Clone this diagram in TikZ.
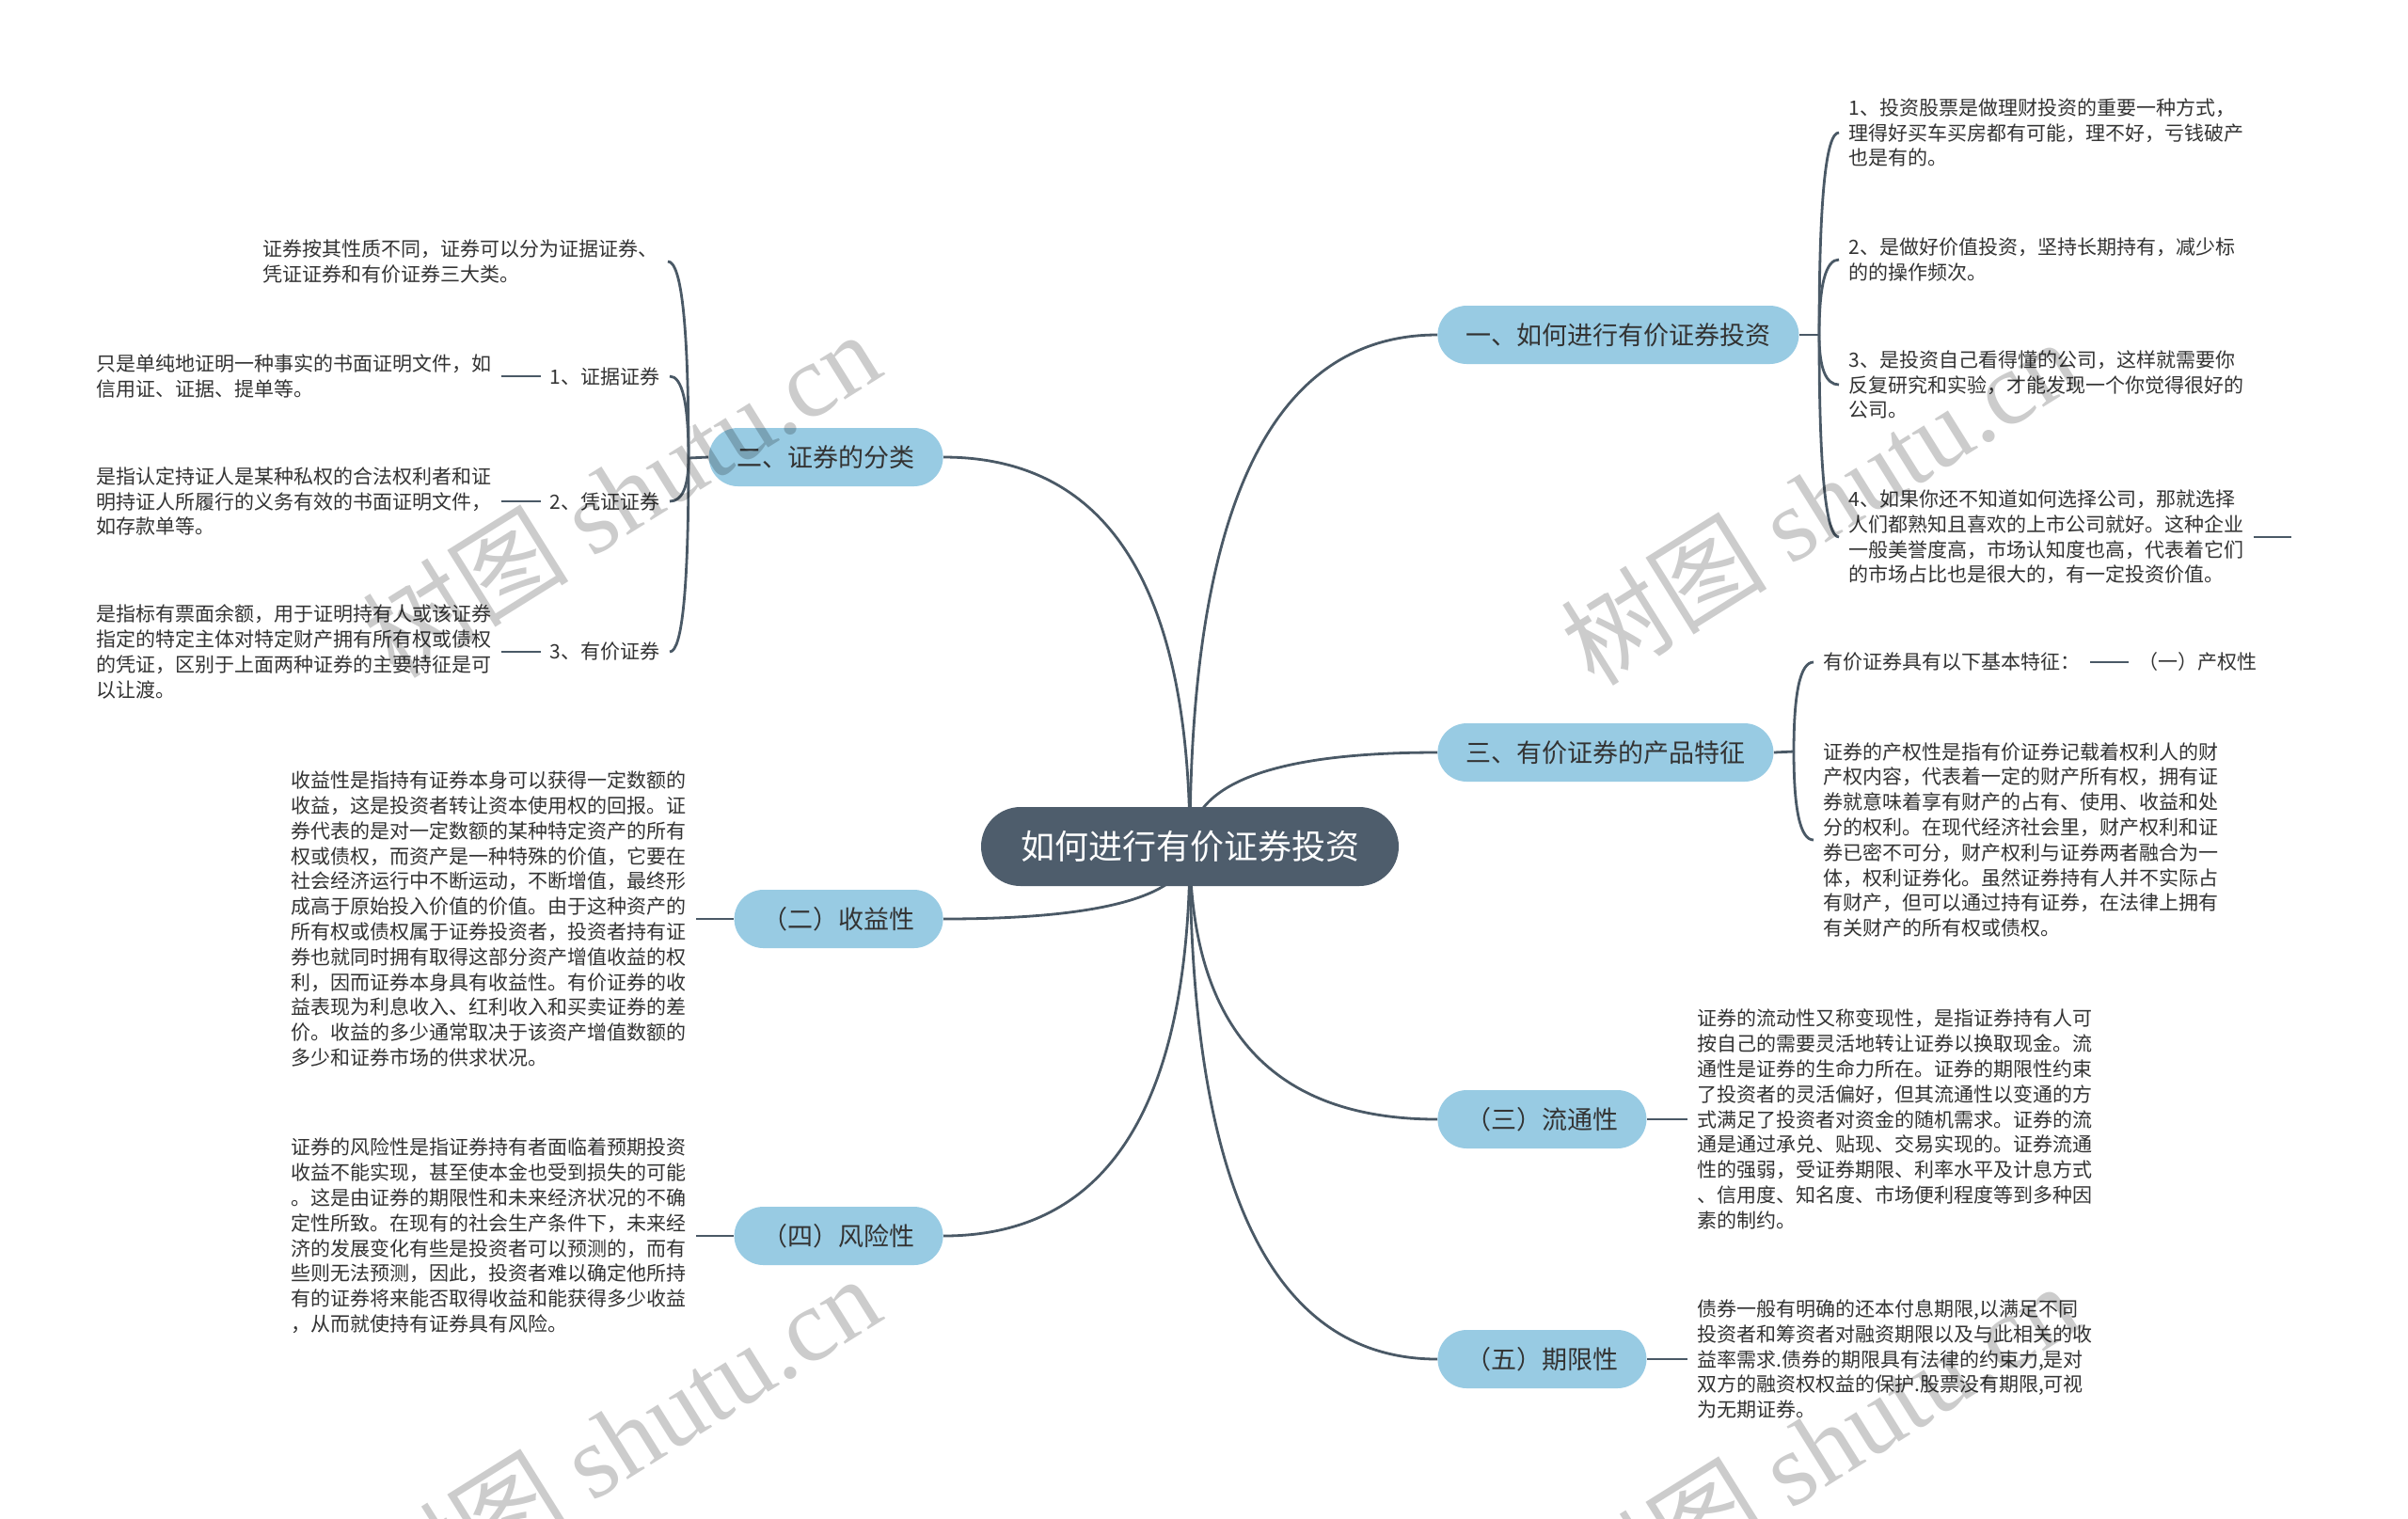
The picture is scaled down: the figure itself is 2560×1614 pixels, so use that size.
\documentclass[tikz,border=0pt]{standalone}
\usepackage{fontspec}
\setmainfont{Noto Sans CJK SC}
\newfontfamily\wmlatin{Liberation Serif}
\usepackage{xcolor}
\usetikzlibrary{positioning,calc,backgrounds}
\definecolor{rootfill}{HTML}{4E5D6C}
\definecolor{topicfill}{HTML}{98CBE3}
\definecolor{linecol}{HTML}{4A5966}
\definecolor{inkgray}{HTML}{333333}

\begin{document}
\begin{tikzpicture}[
    x=0.5pt, y=-0.5pt,
    root/.style={fill=rootfill, text=white, rounded corners=21pt, minimum height=42pt,
                 inner xsep=21pt, font=\fontsize{18}{22}\selectfont},
    topic/.style={fill=topicfill, text=inkgray, rounded corners=15.5pt, minimum height=31pt,
                  inner xsep=15pt, font=\fontsize{13.5}{16}\selectfont},
    leaf/.style={text=inkgray, align=left, inner xsep=5pt, inner ysep=1pt,
                 font=\fontsize{10.5}{13.4}\selectfont},
    conn/.style={draw=linecol, line width=1.4pt},
    watermark/.style={text=black, text opacity=0.2, rotate=32,
                      font=\fontsize{55}{60}\selectfont},
  ]
  \useasboundingbox (0,0) rectangle (2560,1614);

  % centre + main topics
  \node[root] (root) at (1265,900) {如何进行有价证券投资};
  \node[topic, anchor=west] (invest) at (1528,356)  {一、如何进行有价证券投资};
  \node[topic, anchor=west] (feat)   at (1528,800)  {三、有价证券的产品特征};
  \node[topic, anchor=west] (liquid) at (1528,1190) {（三）流通性};
  \node[topic, anchor=west] (term)   at (1528,1445) {（五）期限性};
  \node[topic, anchor=east] (kinds)  at (1003,486)  {二、证券的分类};
  \node[topic, anchor=east] (yield)  at (1003,977)  {（二）收益性};
  \node[topic, anchor=east] (risk)   at (1003,1314) {（四）风险性};

  % leaves of "一"
  \coordinate (jinv) at (1934,356);
  \node[leaf, anchor=west] (inv1) at (1955,141) {1、投资股票是做理财投资的重要一种方式，\\理得好买车买房都有可能，理不好，亏钱破产\\也是有的。};
  \node[leaf, anchor=west] (inv2) at (1955,276) {2、是做好价值投资，坚持长期持有，减少标\\的的操作频次。};
  \node[leaf, anchor=west] (inv3) at (1955,409) {3、是投资自己看得懂的公司，这样就需要你\\反复研究和实验，才能发现一个你觉得很好的\\公司。};
  \node[leaf, anchor=west] (inv4) at (1955,571) {4、如果你还不知道如何选择公司，那就选择\\人们都熟知且喜欢的上市公司就好。这种企业\\一般美誉度高，市场认知度也高，代表着它们\\的市场占比也是很大的，有一定投资价值。};
  \coordinate (inv4stub) at (2436,571);

  % leaves of "三"
  \coordinate (jfeat) at (1907,799);
  \node[leaf, anchor=west] (feat1) at (1928,704) {有价证券具有以下基本特征：};
  \node[leaf, right=20.5pt of feat1] (prop) {（一）产权性};
  \node[leaf, anchor=west] (feat2) at (1928,893) {证券的产权性是指有价证券记载着权利人的财\\产权内容，代表着一定的财产所有权，拥有证\\券就意味着享有财产的占有、使用、收益和处\\分的权利。在现代经济社会里，财产权利和证\\券已密不可分，财产权利与证券两者融合为一\\体，权利证券化。虽然证券持有人并不实际占\\有财产，但可以通过持有证券，在法律上拥有\\有关财产的所有权或债权。};

  % leaves of the lower right topics
  \node[leaf, right=21.5pt of liquid] (liq1) {证券的流动性又称变现性，是指证券持有人可\\按自己的需要灵活地转让证券以换取现金。流\\通性是证券的生命力所在。证券的期限性约束\\了投资者的灵活偏好，但其流通性以变通的方\\式满足了投资者对资金的随机需求。证券的流\\通是通过承兑、贴现、交易实现的。证券流通\\性的强弱，受证券期限、利率水平及计息方式\\、信用度、知名度、市场便利程度等到多种因\\素的制约。};
  \node[leaf, right=21.5pt of term] (term1) {债券一般有明确的还本付息期限,以满足不同\\投资者和筹资者对融资期限以及与此相关的收\\益率需求.债券的期限具有法律的约束力,是对\\双方的融资权权益的保护.股票没有期限,可视\\为无期证券。};

  % leaves of "二"
  \coordinate (jkind) at (732,487);
  \node[leaf, anchor=east] (kind0) at (710,278) {证券按其性质不同，证券可以分为证据证券、\\凭证证券和有价证券三大类。};
  \node[leaf, anchor=east] (sub1) at (712,400) {1、证据证券};
  \node[leaf, anchor=east] (sub2) at (712,533) {2、凭证证券};
  \node[leaf, anchor=east] (sub3) at (712,693) {3、有价证券};
  \node[leaf, left=21pt of sub1] (kind1) {只是单纯地证明一种事实的书面证明文件，如\\信用证、证据、提单等。};
  \node[leaf, left=21pt of sub2] (kind2) {是指认定持证人是某种私权的合法权利者和证\\明持证人所履行的义务有效的书面证明文件，\\如存款单等。};
  \node[leaf, left=21pt of sub3] (kind3) {是指标有票面余额，用于证明持有人或该证券\\指定的特定主体对特定财产拥有所有权或债权\\的凭证，区别于上面两种证券的主要特征是可\\以让渡。};

  % leaves of the lower left topics
  \node[leaf, left=20pt of yield] (yld1) {收益性是指持有证券本身可以获得一定数额的\\收益，这是投资者转让资本使用权的回报。证\\券代表的是对一定数额的某种特定资产的所有\\权或债权，而资产是一种特殊的价值，它要在\\社会经济运行中不断运动，不断增值，最终形\\成高于原始投入价值的价值。由于这种资产的\\所有权或债权属于证券投资者，投资者持有证\\券也就同时拥有取得这部分资产增值收益的权\\利，因而证券本身具有收益性。有价证券的收\\益表现为利息收入、红利收入和买卖证券的差\\价。收益的多少通常取决于该资产增值数额的\\多少和证券市场的供求状况。};
  \node[leaf, left=20pt of risk] (risk1) {证券的风险性是指证券持有者面临着预期投资\\收益不能实现，甚至使本金也受到损失的可能\\。这是由证券的期限性和未来经济状况的不确\\定性所致。在现有的社会生产条件下，未来经\\济的发展变化有些是投资者可以预测的，而有\\些则无法预测，因此，投资者难以确定他所持\\有的证券将来能否取得收益和能获得多少收益\\，从而就使持有证券具有风险。};

  % connectors from the centre (behind the nodes)
  \begin{scope}[on background layer]
    \fill[white] (0,0) rectangle (2560,1614);
    \foreach \t in {invest,feat,liquid,term}
      \draw[conn] (root.center) .. controls ($(root.center)!2/3!(root.center |- \t.west)$)
                  and ($(\t.west)!2/3!(root.center |- \t.west)$) .. (\t.west);
    \foreach \t in {kinds,yield,risk}
      \draw[conn] (root.center) .. controls ($(root.center)!2/3!(root.center |- \t.east)$)
                  and ($(\t.east)!2/3!(root.center |- \t.east)$) .. (\t.east);
  \end{scope}

  % brackets to the leaves
  \draw[conn] (invest.east) -- (jinv);
  \foreach \n in {inv1,inv2,inv3,inv4}
    \draw[conn] (jinv) .. controls ($(jinv)!2/3!(jinv |- \n.west)$)
                and ($(\n.west)!2/3!(jinv |- \n.west)$) .. (\n.west);
  \draw[conn] (inv4.east) -- (inv4stub);

  \draw[conn] (feat.east) -- (jfeat);
  \foreach \n in {feat1,feat2}
    \draw[conn] (jfeat) .. controls ($(jfeat)!2/3!(jfeat |- \n.west)$)
                and ($(\n.west)!2/3!(jfeat |- \n.west)$) .. (\n.west);
  \draw[conn] (feat1.east) -- (prop.west);

  \draw[conn] (liquid.east) -- (liq1.west);
  \draw[conn] (term.east) -- (term1.west);

  \draw[conn] (kinds.west) -- (jkind);
  \foreach \n in {kind0,sub1,sub2,sub3}
    \draw[conn] (jkind) .. controls ($(jkind)!2/3!(jkind |- \n.east)$)
                and ($(\n.east)!2/3!(jkind |- \n.east)$) .. (\n.east);
  \foreach \a/\b in {kind1/sub1,kind2/sub2,kind3/sub3}
    \draw[conn] (\a.east) -- (\b.west);

  \draw[conn] (yld1.east) -- (yield.west);
  \draw[conn] (risk1.east) -- (risk.west);

  % watermarks
  \foreach \wx/\wy [count=\i] in {660/525,1934/533,660/1529,1934/1537}
    \node[watermark] (wm\i) at (\wx,\wy) {树图 {\wmlatin shutu.cn}};
\end{tikzpicture}
\end{document}
